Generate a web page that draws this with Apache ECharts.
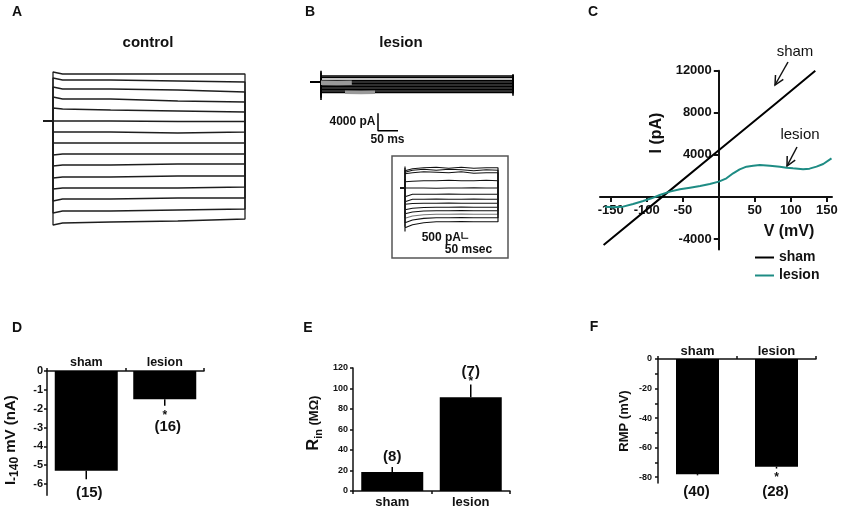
<!DOCTYPE html>
<html>
<head>
<meta charset="utf-8">
<script src="https://cdn.jsdelivr.net/npm/echarts@6/dist/echarts.min.js"></script>
<style>
html,body{margin:0;padding:0;background:#fff;}
#c{width:850px;height:518px;}
</style>
</head>
<body>
<div id="c"></div>
<script>
// ---------------- DATA ----------------
// Panel A: control current traces (arbitrary current units) sampled at these times (ms)
const timesA = [0, 10, 60, 130, 200];
const holdA = 109;
const tracesA = [
  [158, 156, 156, 156, 156],
  [152, 150, 150, 149, 148],
  [143, 141, 141, 140, 138],
  [133, 131, 131, 129, 128],
  [122, 121, 120, 119, 118],
  [110, 109, 109, 108.5, 108.5],
  [98, 98, 98, 97, 98],
  [87, 87, 87, 87, 87],
  [75, 76, 76, 76, 76],
  [64, 65, 65, 66, 66],
  [52, 53, 53, 54, 54],
  [41, 42, 42, 42, 43],
  [29, 31, 31, 32, 32],
  [17, 19, 19, 20, 21],
  [5, 7, 8, 9, 11]
];

// Panel B: lesion current traces (pA) at these times (ms)
const timesB = [0, 120, 240, 360, 480];
const tracesB = [
  [1370, 1380, 1370, 1360, 1370],
  [1030, 1030, 1040, 1030, 1030],
  [340, 350, 340, 340, 350],
  [0, 0, 0, 0, 0],
  [-340, -340, -330, -340, -340],
  [-690, -680, -690, -690, -690],
  [-1030, -1030, -1030, -1040, -1030],
  [-1370, -1370, -1360, -1370, -1370],
  [-1710, -1720, -1710, -1710, -1710],
  [-2060, -2060, -2050, -2060, -2060],
  [-2400, -2400, -2400, -2390, -2400]
];
const onSpikeB = [2600, 2200, 1000, 0, -800, -1400, -2000, -2600, -3100, -3600, -4100];
const offSpikeB = [-3150, -2600, -1100, 0, 600, 900, 1100, 1300, 1500, 1650, 1780];
const grayB1T = [0, 40, 77];
const grayB1I = [-180, -220, -180];
const grayB2T = [60, 100, 135];
const grayB2I = [-2350, -2380, -2350];

// Panel B inset: traces (pA) at these times (ms)
const timesInset = [0, 60, 150, 250, 350, 450, 550, 650, 744];
const tracesInset = [
  [1380, 1540, 1620, 1660, 1580, 1660, 1580, 1620, 1620],
  [1260, 1420, 1500, 1420, 1500, 1460, 1380, 1460, 1420],
  [1140, 1220, 1300, 1260, 1220, 1300, 1180, 1220, 1220],
  [500, 540, 580, 580, 620, 580, 580, 620, 580],
  [20, 0, 0, -20, 0, 0, 20, 0, 0],
  [-540, -500, -500, -500, -480, -500, -500, -500, -500],
  [-940, -900, -900, -890, -900, -900, -890, -900, -900],
  [-1300, -1240, -1220, -1220, -1210, -1220, -1220, -1220, -1220],
  [-1740, -1620, -1560, -1540, -1540, -1530, -1540, -1540, -1540],
  [-2060, -1920, -1840, -1820, -1820, -1810, -1820, -1820, -1820],
  [-2420, -2240, -2140, -2100, -2100, -2090, -2100, -2100, -2100],
  [-2780, -2560, -2430, -2380, -2380, -2370, -2380, -2380, -2380],
  [-3180, -2940, -2780, -2700, -2700, -2690, -2700, -2700, -2700]
];
const onSpikeInset = [1730, 1600, 1450, 700, 0, -700, -1100, -1500, -2000, -2400, -2800, -3100, -3470];

// Panel C: I-V curves
const shamV = [-160, -80, 0, 80, 134];
const shamI = [-4560, -60, 4440, 8940, 12000];
const lesionV = [-158, -147, -133, -119, -105, -93.5, -82, -68, -54, -40, -26, -12.5, 0, 10.6, 19.9, 29, 38.4, 47.7, 57, 71, 84.7, 94, 103, 117, 126, 135.7, 145, 156.5];
const lesionI = [-918, -982, -918, -665, -380, -127, 190, 507, 729, 887, 1045, 1235, 1457, 1774, 2249, 2629, 2882, 2977, 3040, 2977, 2882, 2787, 2724, 2629, 2692, 2882, 3135, 3674];
const ivTicksX = [-150, -100, -50, 50, 100, 150];
const ivTicksY = [-4000, 4000, 8000, 12000];

// Panels D-F: group summaries
const groups = ['sham', 'lesion'];
const iMean = [-5.3, -1.5], iSem = [0.45, 0.35], iN = [15, 16], iSig = [0, 1];
const rMean = [18.5, 91.5], rSem = [5, 12.5], rN = [8, 7], rSig = [0, 1];
const vMean = [-78, -73], vSem = [0.8, 1.2], vN = [40, 28], vSig = [0, 1];
const ticksD = [0, -1, -2, -3, -4, -5, -6];
const ticksF = [0, -20, -40, -60, -80];

// ---------------- STYLE / HELPERS ----------------
const FONT = '"Liberation Sans", Arial, Helvetica, sans-serif';
const INK = '#111';
const TEAL = '#1e8c84';

function traceSeries(g, t, vals, hold, tPre, spikeOn, spikeOff, color, width) {
  const d = [[tPre, hold], [t[0], hold]];
  if (spikeOn != null) d.push([t[0], spikeOn]);
  t.forEach((ti, k) => d.push([ti, vals[k]]));
  const tEnd = t[t.length - 1];
  if (spikeOff != null) d.push([tEnd, spikeOff]);
  d.push([tEnd, hold]);
  return {
    type: 'line', xAxisIndex: g, yAxisIndex: g, data: d, symbol: 'none',
    lineStyle: { color: color, width: width }, itemStyle: { color: color },
    animation: false, silent: true, z: 2
  };
}
function plainLine(g, pts, color, width, name, z) {
  return {
    type: 'line', name: name, xAxisIndex: g, yAxisIndex: g, data: pts, symbol: 'none',
    lineStyle: { color: color, width: width }, itemStyle: { color: color },
    animation: false, silent: true, z: z || 3
  };
}
function txt(x, y, text, size, weight, align, rot) {
  return {
    type: 'text', x: x, y: y, rotation: rot || 0, silent: true,
    style: {
      text: text, fill: INK, fontSize: size, fontWeight: weight, fontFamily: FONT,
      align: align || 'center', verticalAlign: 'middle',
      textAlign: align || 'center', textVerticalAlign: 'middle'
    }
  };
}
function hiddenAxes(g, xmin, xmax, ymin, ymax) {
  return [
    { gridIndex: g, type: 'value', min: xmin, max: xmax, show: false },
    { gridIndex: g, type: 'value', min: ymin, max: ymax, show: false }
  ];
}
function errSeries(g, mean, sem, n, sig, o) {
  return {
    type: 'custom', xAxisIndex: g, yAxisIndex: g, silent: true, animation: false, z: 5,
    data: groups.map((_, i) => [i, mean[i], sem[i], n[i], sig[i]]),
    encode: { x: 0, y: 1 },
    renderItem: function (params, api) {
      const i = api.value(0), m = api.value(1), s = api.value(2), cnt = api.value(3), st = api.value(4);
      const end = m < 0 ? m - s : m + s;
      const p0 = api.coord([i, m]), p1 = api.coord([i, end]);
      const dir = m < 0 ? 1 : -1;
      const ch = [{ type: 'line', shape: { x1: p0[0], y1: p0[1], x2: p1[0], y2: p1[1] },
        style: { stroke: '#000', lineWidth: 1.5 } }];
      const ts = (t, x, y, size) => ({ type: 'text', style: {
        text: t, x: x, y: y, fill: INK, fontSize: size, fontWeight: 'bold', fontFamily: FONT,
        align: 'center', verticalAlign: 'middle', textAlign: 'center', textVerticalAlign: 'middle' } });
      if (st) ch.push(ts('*', p1[0], p1[1] + dir * o.star, 12));
      ch.push(ts('(' + cnt + ')', p1[0] + o.dx, p1[1] + dir * (st ? o.nStar : o.n), o.size));
      return { type: 'group', children: ch };
    }
  };
}
const axLine = { show: true, lineStyle: { color: INK, width: 1.5 } };
const axTick = { show: true, length: 3, lineStyle: { color: INK, width: 1.5 } };
function lab(size, margin, extra) {
  return Object.assign({ color: INK, fontSize: size, fontWeight: 'bold', fontFamily: FONT, margin: margin }, extra || {});
}

// ---------------- GRIDS ----------------
const grids = [
  { left: 43.4, top: 65, width: 201.6, height: 170 },          // 0 A
  { left: 301, top: 55.75, width: 228, height: 96.25 },         // 1 B
  { left: 392, top: 156, width: 116, height: 102, show: true,
    borderColor: '#555', borderWidth: 1.5, backgroundColor: 'transparent' }, // 2 inset
  { left: 600, top: 70.7, width: 232, height: 178.9 },          // 3 C
  { left: 47, top: 371, width: 157, height: 124.3 },            // 4 D
  { left: 353, top: 368, width: 157, height: 123 },             // 5 E
  { left: 658, top: 359, width: 158, height: 124 }              // 6 F
];

const axA = hiddenAxes(0, -10, 200, -5, 165);
const axB = hiddenAxes(1, -50, 520, -16000, 6000);
const axI = hiddenAxes(2, -104, 824, -5600, 2560);

// C axes cross at zero: shift each axis (line, ticks, labels) onto the other's zero
const cXmin = -165, cXmax = 157.2, cYmin = -5000, cYmax = 12000;
const cOffX = -(0 - cYmin) / (cYmax - cYmin) * grids[3].height;   // move x-axis up to I = 0
const cOffY = -(0 - cXmin) / (cXmax - cXmin) * grids[3].width;    // move y-axis right to V = 0

const xAxes = [
  axA[0], axB[0], axI[0],
  { gridIndex: 3, type: 'value', min: cXmin, max: cXmax, offset: cOffX,
    axisLine: { show: true, onZero: false, lineStyle: { color: INK, width: 2 } },
    axisTick: { show: true, length: 5, lineStyle: { color: INK, width: 2 }, customValues: ivTicksX },
    axisLabel: lab(13, 7, { customValues: ivTicksX, formatter: v => String(v) }), splitLine: { show: false } },
  { gridIndex: 4, type: 'category', data: groups, position: 'top', axisLine: axLine, axisTick: axTick,
    axisLabel: lab(12.5, 2) },
  { gridIndex: 5, type: 'category', data: groups, position: 'bottom', axisLine: axLine, axisTick: axTick,
    axisLabel: lab(13, 4.5) },
  { gridIndex: 6, type: 'category', data: groups, position: 'top', axisLine: axLine, axisTick: axTick,
    axisLabel: lab(13, 1) }
];
const yAxes = [
  axA[1], axB[1], axI[1],
  { gridIndex: 3, type: 'value', min: cYmin, max: cYmax, offset: cOffY,
    axisLine: { show: true, onZero: false, lineStyle: { color: INK, width: 2 } },
    axisTick: { show: true, length: 5, lineStyle: { color: INK, width: 2 }, customValues: [-4000, 0, 4000, 8000, 12000] },
    axisLabel: lab(13, 7, { customValues: ivTicksY, formatter: v => String(v) }), splitLine: { show: false } },
  { gridIndex: 4, type: 'value', min: -6.6, max: 0, axisLine: axLine,
    axisTick: Object.assign({ customValues: ticksD }, axTick),
    axisLabel: lab(11, 4, { customValues: ticksD }), splitLine: { show: false },
    name: '{a|I}{b|-140}{c| mV (nA)}', nameLocation: 'middle', nameGap: 26, nameRotate: 90,
    nameTextStyle: { padding: [0, 14, 0, 0], rich: {
      a: { fontSize: 15, fontWeight: 'bold', fontFamily: FONT, color: INK, lineHeight: 20 },
      b: { fontSize: 12, fontWeight: 'bold', fontFamily: FONT, color: INK, lineHeight: 12, verticalAlign: 'bottom' },
      c: { fontSize: 15, fontWeight: 'bold', fontFamily: FONT, color: INK, lineHeight: 20 } } } },
  { gridIndex: 5, type: 'value', min: 0, max: 120, interval: 20, axisLine: axLine, axisTick: axTick,
    axisLabel: lab(9, 5), splitLine: { show: false },
    name: '{a|R}{b|in}{c| (MΩ)}', nameLocation: 'middle', nameGap: 29, nameRotate: 90,
    nameTextStyle: { padding: [0, 0, 0, 13], rich: {
      a: { fontSize: 16, fontWeight: 'bold', fontFamily: FONT, color: INK, lineHeight: 20 },
      b: { fontSize: 11, fontWeight: 'bold', fontFamily: FONT, color: INK, lineHeight: 11, verticalAlign: 'bottom' },
      c: { fontSize: 13, fontWeight: 'bold', fontFamily: FONT, color: INK, lineHeight: 20 } } } },
  { gridIndex: 6, type: 'value', min: -84, max: 0, axisLine: axLine,
    axisTick: Object.assign({ customValues: [0, -10, -20, -30, -40, -50, -60, -70, -80] }, axTick),
    axisLabel: lab(9, 6, { customValues: ticksF }), splitLine: { show: false },
    name: 'RMP (mV)', nameLocation: 'middle', nameGap: 27, nameRotate: 90,
    nameTextStyle: { fontSize: 13, fontWeight: 'bold', fontFamily: FONT, color: INK } }
];

// ---------------- SERIES ----------------
const series = [];
tracesA.forEach(v => series.push(traceSeries(0, timesA, v, holdA, -10, null, null, '#1e1e1e', 1.3)));
tracesB.forEach((v, k) => series.push(traceSeries(1, timesB, v, 0, -27, onSpikeB[k], offSpikeB[k], '#000', 1.6)));
series.push(plainLine(1, grayB1T.map((t, k) => [t, grayB1I[k]]), '#9a9a9a', 4.5, 'grayB1', 4));
series.push(plainLine(1, grayB2T.map((t, k) => [t, grayB2I[k]]), '#9a9a9a', 3.5, 'grayB2', 4));
tracesInset.forEach((v, k) => series.push(traceSeries(2, timesInset, v, 0, -40, onSpikeInset[k], null, k === 10 ? '#777' : '#111', 1.2)));

// scale bars (drawn in the panels' own units)
const sbB = { t: 142.5, i: -7150, dT: 50, dI: 4000 };
series.push(plainLine(1, [[sbB.t, sbB.i], [sbB.t, sbB.i - sbB.dI], [sbB.t + sbB.dT, sbB.i - sbB.dI]], '#000', 1.5, 'scaleB'));
const sbI = { t: 456, i: -3520, dT: 50, dI: 500 };
series.push(plainLine(2, [[sbI.t, sbI.i], [sbI.t, sbI.i - sbI.dI], [sbI.t + sbI.dT, sbI.i - sbI.dI]], '#000', 1.2, 'scaleI'));

// I-V curves
series.push(plainLine(3, shamV.map((v, k) => [v, shamI[k]]), '#000', 2, 'sham', 3));
series.push(plainLine(3, lesionV.map((v, k) => [v, lesionI[k]]), TEAL, 2, 'lesion', 4));

// bars + error bars
function bars(g, mean, w) {
  return { type: 'bar', xAxisIndex: g, yAxisIndex: g, data: mean, barWidth: w,
    itemStyle: { color: '#000' }, animation: false, silent: true, z: 2 };
}
series.push(bars(4, iMean, 63));
series.push(errSeries(4, iMean, iSem, iN, iSig, { star: 9.5, n: 14, nStar: 21, dx: 3, size: 15 }));
series.push(bars(5, rMean, 62));
series.push(errSeries(5, rMean, rSem, rN, rSig, { star: 2.4, n: 10, nStar: 12.4, dx: 0, size: 15 }));
series.push(bars(6, vMean, 43));
series.push(errSeries(6, vMean, vSem, vN, vSig, { star: 9, n: 17, nStar: 23.6, dx: -1, size: 15 }));

// ---------------- GRAPHIC (labels, annotations) ----------------
const arrowStyle = { stroke: INK, lineWidth: 1.5, fill: 'none' };
const graphic = [
  txt(17, 12, 'A', 14, 'bold'), txt(310, 12, 'B', 14, 'bold'), txt(593, 12, 'C', 14, 'bold'),
  txt(17, 328, 'D', 14, 'bold'), txt(308, 328, 'E', 14, 'bold'), txt(594, 327, 'F', 14, 'bold'),
  txt(148, 43, 'control', 15, 'bold'), txt(401, 43, 'lesion', 15, 'bold'),
  txt(375.5, 122, '4000 pA', 12, 'bold', 'right'), txt(387.5, 140, '50 ms', 12, 'bold'),
  txt(461, 237.5, '500 pA', 12, 'bold', 'right'), txt(468.5, 250, '50 msec', 12, 'bold'),
  txt(795, 52, 'sham', 15, 'normal'), txt(800, 135, 'lesion', 15, 'normal'),
  txt(656.5, 133, 'I (pA)', 16, 'bold', 'center', Math.PI / 2),
  txt(789, 231.5, 'V (mV)', 16, 'bold'),
  { type: 'polyline', silent: true, shape: { points: [[788, 62], [775, 85]] }, style: arrowStyle },
  { type: 'polyline', silent: true, shape: { points: [[783.3, 79.4], [775, 85], [775.5, 75]] }, style: arrowStyle },
  { type: 'polyline', silent: true, shape: { points: [[797, 147], [787, 166]] }, style: arrowStyle },
  { type: 'polyline', silent: true, shape: { points: [[795.2, 160.1], [787, 166], [787.2, 155.9]] }, style: arrowStyle }
];

const chart = echarts.init(document.getElementById('c'), null, { renderer: 'canvas' });
chart.setOption({
  animation: false,
  backgroundColor: '#fff',
  grid: grids,
  xAxis: xAxes,
  yAxis: yAxes,
  legend: {
    data: ['sham', 'lesion'], orient: 'vertical', left: 750, top: 244.5, padding: 5,
    itemWidth: 19, itemHeight: 2, icon: 'rect', itemGap: 2, selectedMode: false,
    textStyle: { color: INK, fontSize: 14, fontWeight: 'bold', fontFamily: FONT, lineHeight: 16 }
  },
  graphic: graphic,
  series: series
});
</script>
</body>
</html>
